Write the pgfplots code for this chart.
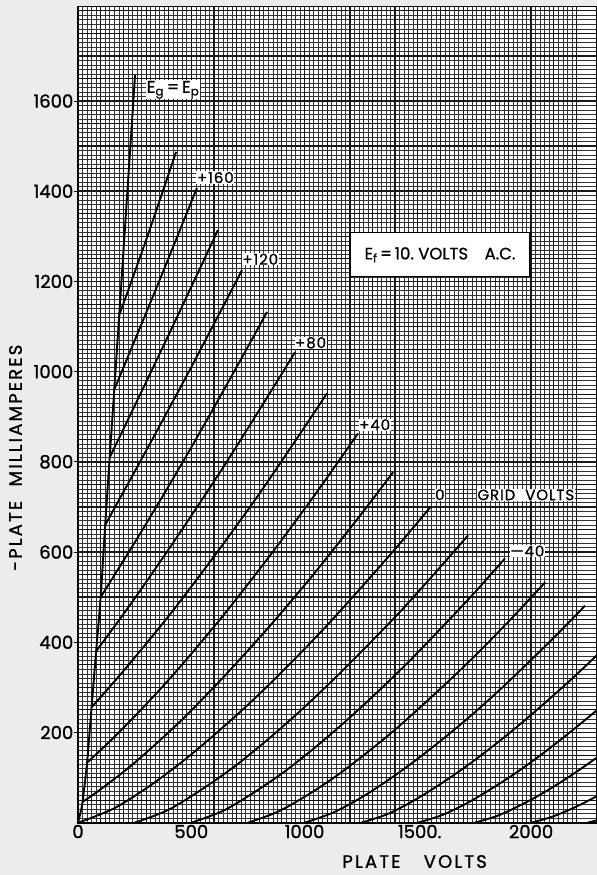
\documentclass[border=0pt]{standalone}
\usepackage{fontspec}
\setmainfont{Poppins}
\usepackage{pgfplots}
\pgfplotsset{compat=1.18}
\definecolor{paper}{RGB}{236,236,234}

\newcommand\tickfont{\fontsize{18bp}{18bp}\selectfont\addfontfeature{FakeBold=1.2}}
\newcommand\curvefont{\fontsize{15bp}{15bp}\selectfont\addfontfeature{LetterSpace=6,FakeBold=1}}
\newcommand\labfont{\fontsize{18bp}{18bp}\selectfont\addfontfeature{LetterSpace=12,FakeBold=1.2}}

\tikzset{
  curve/.style={black, line width=1.9bp, smooth},
  heavy/.style={black!90, line width=1.45bp},
  tag/.style={anchor=base west, font=\curvefont, fill=white, inner sep=0.6bp},
}

\begin{document}
\begin{tikzpicture}
\fill[paper] (-78bp,-52.3bp) rectangle (519bp,822.7bp);
\begin{axis}[
  scale only axis, width=519bp, height=816bp,
  xmin=0, xmax=2291, ymin=0, ymax=1809,
  axis background/.style={fill=white},
  clip mode=individual,
  xtick={0,100,...,2200}, ytick={0,50,...,1800},
  xticklabels={}, yticklabels={},
  minor x tick num=4, minor y tick num=4,
  grid=both,
  minor grid style={black!80, line width=0.55bp},
  major grid style={black!95, line width=0.9bp},
  major tick length=0pt, minor tick length=0pt,
  extra x ticks={0,500,1000,1500,2000},
  extra x tick labels={0,500,1000,1500\rlap{.},2000},
  extra y ticks={200,400,...,1600},
  extra y tick labels={200,400,600,800,1000,1200,1400,1600},
  extra tick style={grid=none},
  extra y tick style={major tick length=4bp, tick align=outside,
    tick style={black, line width=0.9bp}},
  tick label style={font=\tickfont, /pgf/number format/assume math mode=true},
  yticklabel style={inner sep=0.5bp},
  xticklabel style={inner sep=2bp},
  axis line style={black, line width=1.6bp},
]

% heavy ruling of the graph paper
\pgfplotsinvokeforeach{200,400,600,800,1000,1200,1400,1600,1800,2000,2200}{
  \addplot[heavy, forget plot] coordinates {(#1,0) (#1,1809)};
}
\pgfplotsinvokeforeach{100,200,300,400,500,600,700,800,900,1000,1100,1200,1300,1400,1500,1600,1700,1800}{
  \addplot[heavy, forget plot] coordinates {(0,#1) (2291,#1)};
}

% Eg = Ep boundary
\addplot[curve] coordinates {(0,0) (10,20) (20,46) (40,133) (60,256) (80,380) (100,500) (120,660) (140,810) (160,960) (182,1125) (252,1658)};

% positive grid volts
\addplot[curve] coordinates {(182,1125) (305,1298) (433,1487)};
\addplot[curve] coordinates {(160,960) (340,1178) (525,1407)};
\addplot[curve] coordinates {(140,810) (300,976) (460,1145) (618,1314)};
\addplot[curve] coordinates {(120,660) (300,824) (500,1010) (724,1225)};
\addplot[curve] coordinates {(100,500) (300,662) (500,832) (700,1010) (834,1132)};
\addplot[curve] coordinates {(80,380) (250,497) (450,643) (650,795) (850,955) (958,1043)};
\addplot[curve] coordinates {(60,256) (200,336) (400,458) (600,590) (800,729) (1000,877) (1099,952)};
\addplot[curve] coordinates {(40,133) (150,185) (300,262) (450,345) (650,465) (850,594) (1050,730) (1236,863)};
\addplot[curve] coordinates {(20,46) (100,74) (250,133) (450,224) (650,327) (850,438) (1050,557) (1250,684) (1391,777)};

% zero and negative grid volts
\addplot[curve] coordinates {(0,0) (156,31) (312,80) (467,138) (623,204) (779,275) (935,352) (1091,433) (1246,519) (1402,608) (1558,701)};
\addplot[curve] coordinates {(250,0) (397,28) (544,73) (692,125) (839,185) (986,250) (1133,320) (1280,394) (1428,471) (1575,553) (1722,637)};
\addplot[curve] coordinates {(500,0) (639,26) (777,67) (916,115) (1054,170) (1193,230) (1331,294) (1470,362) (1608,434) (1747,508) (1885,586)};
\addplot[curve] coordinates {(750,0) (881,24) (1012,61) (1144,105) (1275,155) (1406,209) (1537,268) (1668,329) (1800,394) (1931,462) (2062,533)};
\addplot[curve] coordinates {(1000,0) (1124,22) (1248,55) (1371,95) (1495,140) (1619,189) (1743,241) (1867,297) (1990,356) (2114,417) (2238,481)};
\addplot[curve] coordinates {(1250,0) (1366,19) (1482,49) (1598,85) (1714,125) (1830,169) (1946,216) (2062,266) (2178,318) (2294,373)};
\addplot[curve] coordinates {(1500,0) (1608,17) (1716,43) (1824,75) (1932,110) (2040,149) (2148,191) (2256,235) (2364,281)};
\addplot[curve] coordinates {(1750,0) (1850,15) (1950,38) (2050,65) (2150,96) (2250,130) (2350,166)};
\addplot[curve] coordinates {(2000,0) (2092,13) (2184,32) (2276,55) (2368,81)};
\addplot[curve] coordinates {(2250,0) (2335,11)};

% curve labels
\node[tag, font=\fontsize{17bp}{17bp}\selectfont\addfontfeature{FakeBold=1}] at (axis cs:300,1618)
  {E\textsubscript{g}\,=\,E\textsubscript{p}};
\node[tag] at (axis cs:522,1418) {+160};
\node[tag] at (axis cs:722,1237) {+120};
\node[tag] at (axis cs:955,1052) {+80};
\node[tag] at (axis cs:1238,870) {+40};
\node[tag] at (axis cs:1573,715) {0};
\node[tag] at (axis cs:1760,715) {GRID\hspace{10bp}VOLTS};
\node[tag] at (axis cs:1905,590) {\textemdash40};

\node[draw=black, fill=white, line width=1.3bp, minimum width=180bp, minimum height=44bp,
  inner sep=2bp, font=\fontsize{16.5bp}{16.5bp}\selectfont\addfontfeature{FakeBold=1}] at (axis cs:1598,1259)
  {E\textsubscript{f}\,=\,10.\ VOLTS\hspace{1em}A.C.};

% axis titles
\node[anchor=base, font=\labfont] at (axis cs:1486,-100) {PLATE\hspace{1.3em}VOLTS};
\node[rotate=90, anchor=center, font=\labfont] at (axis cs:-276,809) {-PLATE\hspace{0.8em}MILLIAMPERES};
\end{axis}
\pgfresetboundingbox
\path (-78bp,-52.3bp) rectangle (519bp,822.7bp);
\end{tikzpicture}
\end{document}
